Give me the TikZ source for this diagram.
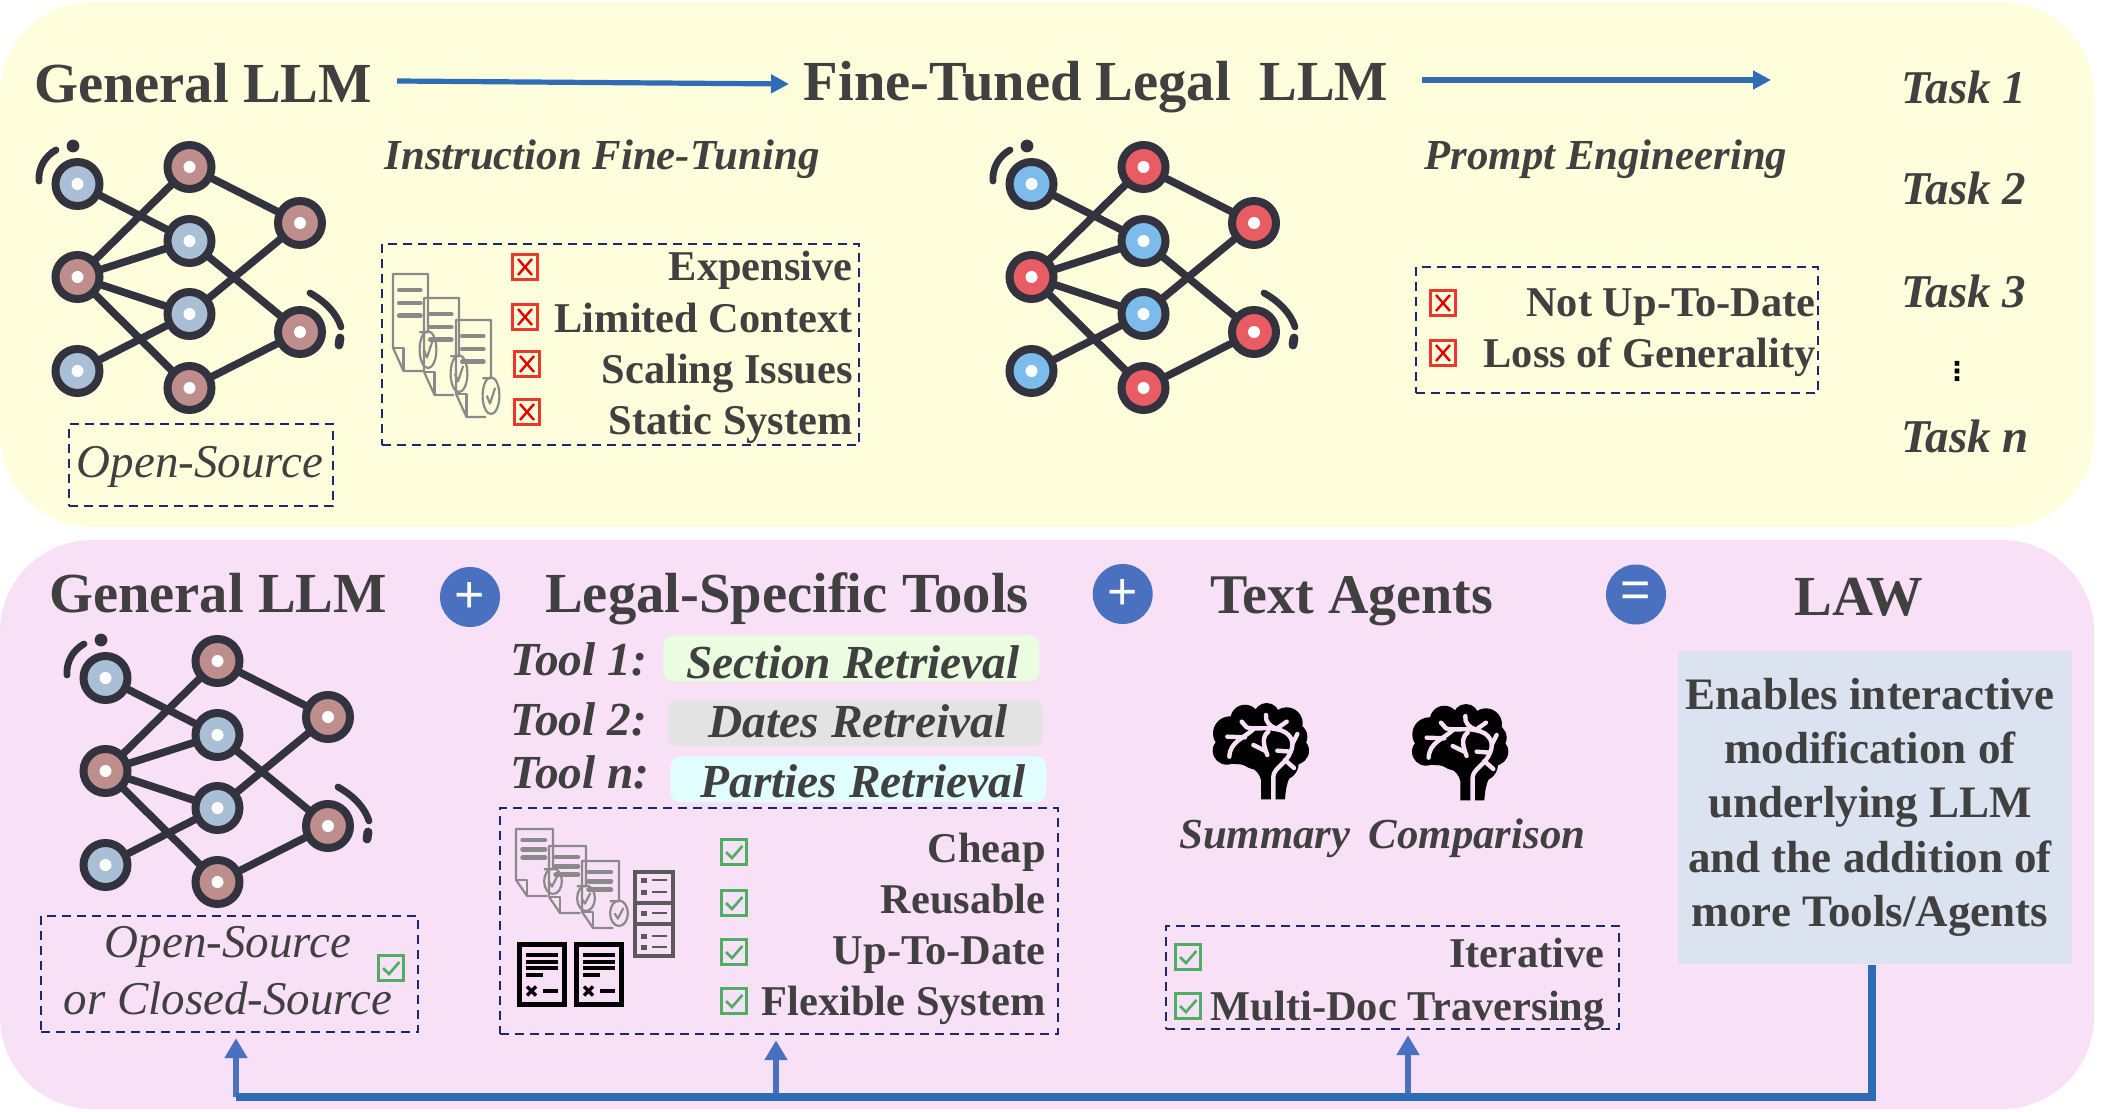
\documentclass[tikz,border=0pt]{standalone}
\usepackage{fontspec}
\setmainfont{Liberation Serif}
\newfontfamily\dejavu{DejaVu Sans}
\newfontfamily\opsans{Liberation Sans}
\usetikzlibrary{arrows.meta,calc}
\definecolor{txt}{HTML}{404040}
\definecolor{panelY}{HTML}{FEFEDD}
\definecolor{panelP}{HTML}{F8E0F6}
\definecolor{ink}{HTML}{33333F}
\definecolor{dashc}{HTML}{1B2A6B}
\definecolor{busc}{HTML}{2E6DB5}
\definecolor{upc}{HTML}{4A70C0}
\definecolor{redc}{HTML}{E8392A}
\definecolor{grnc}{HTML}{4CAF63}
\definecolor{docg}{HTML}{8A8A8A}
\definecolor{lstg}{HTML}{5A5A5A}
\definecolor{gBlue}{HTML}{A9BFD6}
\definecolor{gRose}{HTML}{BD8E8C}
\definecolor{fBlue}{HTML}{7CBCEC}
\definecolor{fRed}{HTML}{E85C63}
\definecolor{pillA}{HTML}{EBFDE0}
\definecolor{pillB}{HTML}{E3E3E3}
\definecolor{pillC}{HTML}{E0FFFE}
\definecolor{lawc}{HTML}{DAE3EF}
\tikzset{
  lbl/.style={inner sep=0pt,text=txt,anchor=base},
  lblr/.style={lbl,anchor=base east},
  lbll/.style={lbl,anchor=base west},
  headf/.style={font=\fontsize{28.3}{30}\selectfont\bfseries},
  itemf/.style={font=\fontsize{21.2}{24}\selectfont\bfseries},
  lawf/.style={font=\fontsize{22.5}{24}\selectfont\bfseries},
  biif/.style={font=\fontsize{21.4}{24}\selectfont\bfseries\itshape},
  taskf/.style={font=\fontsize{23.5}{24}\selectfont\bfseries\itshape},
  toolf/.style={font=\fontsize{23.7}{24}\selectfont\bfseries\itshape},
  opf/.style={font=\fontsize{23.5}{26}\selectfont\itshape},
  dashbox/.style={draw=dashc,line width=1.1pt,dash pattern=on 4.5pt off 3pt,anchor=north west,inner sep=0pt},
  pill/.style={rounded corners=5pt,anchor=north west,inner sep=0pt},
  netnode/.style={circle,draw=ink,line width=4pt,fill=#1,minimum size=22pt,inner sep=0pt},
  netedge/.style={draw=ink,line width=3.8pt,shorten <=-1pt,shorten >=-1pt},
  xbx/.style={draw=redc,line width=1.5pt,fill=white,minimum size=12.5pt,inner sep=0pt},
  cbx/.style={draw=grnc,line width=1.5pt,minimum size=12.5pt,inner sep=0pt},
  opcirc/.style={circle,fill=upc,minimum size=30pt,inner sep=0pt,text=white,font=\fontsize{26}{26}\selectfont\opsans},
  toparrow/.style={draw=busc,line width=2.6pt,-{Triangle[length=9pt,width=9pt]}},
  busline/.style={draw=busc,line width=3.6pt},
  uparrow/.style={draw=upc,line width=3.4pt,-{Triangle[length=10pt,width=11pt]},shorten >=2.5pt},
}
\newcommand{\netfig}[5]{%
\begin{scope}[shift={(#2,#3)}]
  \node[netnode=#4] (#1a) at (77.5,184) {};
  \node[netnode=#5] (#1b) at (189.5,167) {};
  \node[netnode=#5] (#1c) at (300,223) {};
  \node[netnode=#4] (#1d) at (189.5,241) {};
  \node[netnode=#5] (#1e) at (77.5,277) {};
  \node[netnode=#4] (#1f) at (189.5,314) {};
  \node[netnode=#5] (#1g) at (300,332) {};
  \node[netnode=#4] (#1h) at (77.5,371) {};
  \node[netnode=#5] (#1i) at (189.5,388) {};
  \foreach \p/\q in {a/d,b/e,b/c,e/d,e/f,e/i,d/g,c/f,h/f,i/g}
    \draw[netedge] (#1\p) -- (#1\q);
  \foreach \p in {a,b,c,d,e,f,g,h,i}
    \fill[white] (#1\p.center) circle (3pt);
  \draw[ink,line width=3.4pt,line cap=round] (39,181) .. controls (38,168) and (45,156) .. (56,150);
  \fill[ink] (73,146) circle (3.2pt);
  \draw[ink,line width=3.4pt,line cap=round] (310,293) .. controls (326,302) and (337,314) .. (341,327);
  \draw[ink,line width=4.4pt,line cap=round] (340,338) -- (339,345);
\end{scope}}
\newcommand{\docfig}[4]{%
\begin{scope}[shift={(#1,#2)},x={#3*0.5pt},y={#4*-0.5pt},line width=1.1pt,draw=docg,line join=round]
  \draw (0.75,0.6) -- (1,0.6) -- (1,0) -- (0,0) -- (0,0.76) -- (0.3,1) -- (0.85,1);
  \draw (0,0.76) -- (0.3,0.76) -- (0.3,1);
  \draw[line width=2.4pt,line cap=round,docg] (0.18,0.165) -- (0.78,0.165);
  \draw[line width=2.4pt,line cap=round,docg] (0.18,0.3) -- (0.78,0.3);
  \draw[line width=2.4pt,line cap=round,docg] (0.18,0.43) -- (0.78,0.43);
  \draw (1,0.78) ellipse [x radius=0.24,y radius=0.19];
  \draw (0.88,0.78) -- (0.97,0.86) -- (1.12,0.7);
\end{scope}}
\newcommand{\blackdoc}[2]{%
\begin{scope}[shift={(#1,#2)}]
  \draw[black,line width=2.6pt] (2.5,2.5) rectangle (47.5,62.5);
  \foreach \yy in {13,20,26} \draw[black,line width=1.9pt] (9,\yy) -- (41,\yy);
  \draw[black,line width=1.9pt] (9,33) -- (26,33);
  \draw[black,line width=1.9pt] (26,49) -- (41,49);
  \draw[black,line width=1.7pt] (10,44.5) -- (19,53.5) (10,53.5) -- (19,44.5);
\end{scope}}
\newcommand{\xmk}[3]{\node[xbx,fill=none] (#1) at (#2,#3) {};
  \draw[red!90!black,line width=1.2pt] ([shift={(-3.5pt,-4pt)}]#1.center) -- ([shift={(3.5pt,4pt)}]#1.center)
     ([shift={(-3.5pt,4pt)}]#1.center) -- ([shift={(3.5pt,-4pt)}]#1.center);}
\newcommand{\cmk}[3]{\node[cbx] (#1) at (#2,#3) {};
  \draw[grnc,line width=1.3pt] ([shift={(-4pt,0pt)}]#1.center) -- ([shift={(-1pt,-3pt)}]#1.center) -- ([shift={(4.2pt,3pt)}]#1.center);}
\newcommand{\brainfig}[2]{%
\begin{scope}[shift={(#1,#2)},x=0.16667pt,y=-0.16667pt]
  \fill[black] (345,118) circle (7.3pt) (410,108) circle (6.5pt) (470,130) circle (8pt)
     (300,160) circle (8.5pt) (290,212) circle (7pt) (495,212) circle (7pt) (490,170) circle (7pt)
     (390,180) circle (15pt) (455,250) circle (8.5pt);
  \fill[black] (393,358) -- (393,300) .. controls (385,265) and (350,250) .. (300,252) -- (340,180) -- (480,240) -- (480,290) .. controls (470,310) and (467,330) .. (465,358) -- cycle;
  \begin{scope}[panelP,line width=2.2pt,line cap=round,line join=round]
    \draw (430,358) -- (430,290) .. controls (430,265) and (470,250) .. (482,215) .. controls (495,190) and (485,155) .. (440,148) .. controls (410,140) and (370,150) .. (350,142) -- (335,125);
    \draw (370,148) .. controls (340,175) and (300,185) .. (298,230);
    \draw (292,170) -- (345,172);
    \draw (408,105) .. controls (405,125) and (420,140) .. (440,146) -- (470,125);
    \draw (488,190) -- (502,162);
    \draw (415,155) .. controls (395,170) and (400,195) .. (412,225);
    \draw (370,195) -- (405,212);
    \draw (442,212) -- (482,215);
    \draw (465,240) -- (492,264);
  \end{scope}
\end{scope}}
\begin{document}
\begin{tikzpicture}[x=0.5pt,y=-0.5pt]
\useasboundingbox (0,0) rectangle (2104,1112);
\fill[panelY,rounded corners=46pt] (0,2) rectangle (2094,527);
\fill[panelP,rounded corners=46pt] (0,540) rectangle (2094,1109);

%% TOP
\node[lbl,headf] (gen1) at (203,103) {General LLM};
\node[lbl,headf] (fine) at (1096,101) {Fine-Tuned Legal\ \ LLM};
\coordinate (a1s) at (397,81);
\coordinate (a1e) at (789,84);
\draw[toparrow] (a1s) -- (a1e);
\coordinate (a2s) at (1422,80);
\coordinate (a2e) at (1771,80);
\draw[toparrow] (a2s) -- (a2e);
\node[lbl,biif] (ift) at (602,170) {Instruction Fine-Tuning};
\node[lbl,biif] (pe) at (1606,170) {Prompt Engineering};
\node[lbll,taskf] (t1) at (1901,104) {Task 1};
\node[lbll,taskf] (t2) at (1901,205) {Task 2};
\node[lbll,taskf] (t3) at (1901,308) {Task 3};
\node[lbl,text=black,font=\fontsize{13}{14}\selectfont\dejavu\bfseries] (tdots) at (1957,381) {⋮};
\node[lbll,taskf] (tn) at (1901,452) {Task n};

\netfig{na}{0}{0}{gBlue}{gRose}
\netfig{nb}{954}{0}{fBlue}{fRed}

\node[dashbox,minimum width=132pt,minimum height=41pt] (srcA) at (68,423) {};
\node[lbl,opf] (srcAt) at (200,478) {Open-Source};

\node[dashbox,minimum width=238.5pt,minimum height=100.5pt] (conA) at (381,243) {};
\docfig{393}{274}{35}{97}
\docfig{424}{298}{35}{97}
\docfig{456}{320}{35}{97}
\xmk{xa}{525}{267}\xmk{xb}{525}{317}\xmk{xc}{527}{364}\xmk{xd}{527}{412}
\node[lblr,itemf] (ca1) at (853,281) {Expensive};
\node[lblr,itemf] (ca2) at (853,333) {Limited Context};
\node[lblr,itemf] (ca3) at (853,384) {Scaling Issues};
\node[lblr,itemf] (ca4) at (853,435) {Static System};

\node[dashbox,minimum width=201pt,minimum height=63pt] (conB) at (1415,266) {};
\xmk{xe}{1443}{303}\xmk{xf}{1443}{353}
\node[lblr,itemf] (cb1) at (1816,317) {Not Up-To-Date};
\node[lblr,itemf] (cb2) at (1816,368) {Loss of Generality};

%% BOTTOM
\node[lbl,headf] (gen2) at (218,612) {General LLM};
\node[opcirc] (op1) at (470,597) {\raisebox{-1.3pt}{+}};
\node[lbl,headf] (tools) at (787,612) {Legal-Specific Tools};
\node[opcirc] (op2) at (1122.7,594) {\raisebox{-1.3pt}{+}};
\node[lbl,font=\fontsize{28}{30}\selectfont\bfseries] (agents) at (1352,613) {Text Agents};
\node[opcirc] (op3) at (1636,594.5) {\raisebox{-1.3pt}{=}};
\node[lbl,headf] (law) at (1859,615) {LAW};

\netfig{nc}{28}{494}{gBlue}{gRose}

\node[dashbox,minimum width=188.5pt,minimum height=58pt] (srcB) at (40,915) {};
\node[lbl,opf] (srcB1) at (228,957) {Open-Source};
\node[lbl,opf] (srcB2) at (228,1014) {or Closed-Source};
\cmk{cs}{391}{968}

\node[lbll,toolf] (tl1) at (510,675) {Tool 1:};
\node[lbll,toolf] (tl2) at (510,735) {Tool 2:};
\node[lbll,toolf] (tl3) at (510,788) {Tool n:};
\node[pill,fill=pillA,minimum width=188pt,minimum height=23pt] (p1) at (663,635) {};
\node[pill,fill=pillB,minimum width=187.5pt,minimum height=23pt] (p2) at (667.5,700) {};
\node[pill,fill=pillC,minimum width=188pt,minimum height=23pt] (p3) at (670,756) {};
\node[lbl,toolf] (pt1) at (853,678) {Section Retrieval};
\node[lbl,toolf] (pt2) at (858,737) {Dates Retreival};
\node[lbl,toolf] (pt3) at (863,797) {Parties Retrieval};

\node[dashbox,minimum width=279pt,minimum height=113pt] (conC) at (499,807) {};
\docfig{516}{829}{37}{67}
\docfig{549}{846}{37}{67}
\docfig{582}{861}{37}{67}
\begin{scope}[lstg]
  \draw[line width=2pt] (635,872) rectangle (673,956) (635,903) -- (673,903) (635,924) -- (673,924);
  \foreach \yy in {880,892,913,936,947} {
    \fill (641,\yy-2.5) rectangle (647,\yy+2.5);
    \fill (652,\yy-1) rectangle (667,\yy+1);
  }
\end{scope}
\blackdoc{517}{942}
\blackdoc{574}{942}
\cmk{c1}{734}{852}\cmk{c2}{734}{903}\cmk{c3}{734}{952}\cmk{c4}{734}{1001}
\node[lblr,itemf] (cc1) at (1046,862) {Cheap};
\node[lblr,itemf] (cc2) at (1046,913) {Reusable};
\node[lblr,itemf] (cc3) at (1046,964) {Up-To-Date};
\node[lblr,itemf] (cc4) at (1046,1015) {Flexible System};

\brainfig{1130}{680}
\brainfig{1329.3}{681}
\node[lbl,biif] (sum) at (1265,848) {Summary};
\node[lbl,biif] (cmp) at (1477,848) {Comparison};

\node[dashbox,minimum width=226.5pt,minimum height=51.5pt] (conD) at (1165,925) {};
\cmk{c5}{1188}{957}\cmk{c6}{1188}{1006}
\node[lblr,itemf] (cd1) at (1605,967) {Iterative};
\node[lblr,itemf] (cd2) at (1605,1020) {Multi-Doc Traversing};

\node[anchor=north west,fill=lawc,minimum width=197pt,minimum height=156.5pt,inner sep=0pt] (lawbox) at (1678,651) {};
\node[lbl,lawf] (la) at (1870,709) {Enables interactive};
\node[lbl,lawf] (lb) at (1870,763) {modification of};
\node[lbl,lawf] (lc) at (1870,817) {underlying LLM};
\node[lbl,lawf] (ld) at (1870,872) {and the addition of};
\node[lbl,lawf] (le) at (1870,926) {more Tools/Agents};

%% connectors
\coordinate (bus1) at (236,1097);
\coordinate (bus2) at (776,1097);
\coordinate (bus3) at (1408,1097);
\coordinate (bus4) at (1872,1097);
\draw[uparrow] (bus1) -- (bus1 |- srcB.south);
\draw[uparrow] (bus2) -- (bus2 |- conC.south);
\draw[uparrow] (bus3) -- (bus3 |- conD.south);
\draw[busline,line join=miter] (bus1) -- (bus4) -- (bus4 |- lawbox.south);
\end{tikzpicture}
\end{document}
